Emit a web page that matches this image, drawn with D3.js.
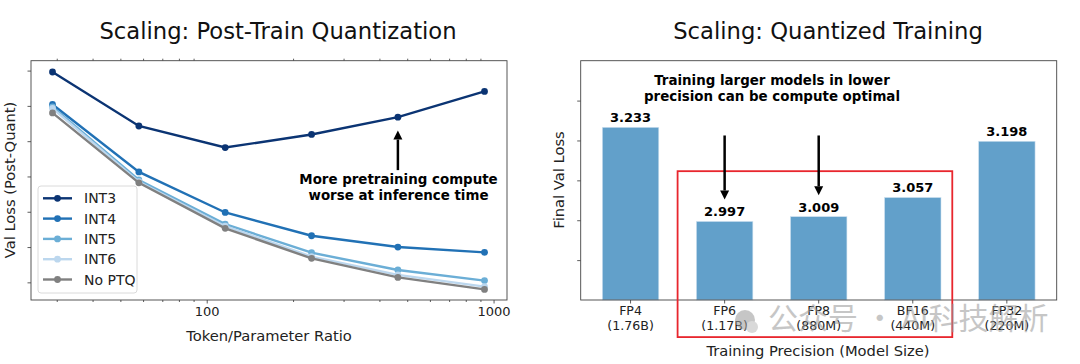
<!DOCTYPE html>
<html>
<head>
<meta charset="utf-8">
<script src="https://cdn.jsdelivr.net/npm/d3@7.9.0/dist/d3.min.js"></script>
<style>
  body { margin: 0; background: #fff; }
  svg { display: block; font-family: "DejaVu Sans", sans-serif; }
</style>
</head>
<body>
<svg id="chart" width="1080" height="364"></svg>
<script>
// ---- left panel data ----
const ratios = [29, 58, 116, 232, 464, 930];
const int3 = [3.496, 3.343, 3.282, 3.319, 3.368, 3.441];
const int4 = [3.404, 3.213, 3.098, 3.032, 3.000, 2.985];
const int5 = [3.397, 3.190, 3.065, 2.984, 2.935, 2.905];
const int6 = [3.393, 3.185, 3.059, 2.973, 2.921, 2.888];
const noPtq = [3.380, 3.182, 3.053, 2.968, 2.914, 2.880];
const seriesNames = ['INT3', 'INT4', 'INT5', 'INT6', 'No PTQ'];
const seriesColors = ['#0b3473', '#2171b5', '#6baed6', '#bcd7ee', '#808080'];
const leftYTicks = [2.9, 3.0, 3.1, 3.2, 3.3, 3.4, 3.5];
const leftXTicks = [100, 1000];

// ---- right panel data ----
const precisions = ['FP4', 'FP6', 'FP8', 'BF16', 'FP32'];
const modelSizes = ['(1.76B)', '(1.17B)', '(880M)', '(440M)', '(220M)'];
const finalLoss = [3.233, 2.997, 3.009, 3.057, 3.198];
const rightYTicks = [2.9, 3.0, 3.1, 3.2, 3.3];

const svg = d3.select('#chart');
svg.append('rect').attr('width', 1080).attr('height', 364).attr('fill', '#fff');

// ================= LEFT =================
const L = { left: 31, right: 507, top: 60.7, bottom: 300 };
const x = d3.scaleLog().domain([24.4, 1114]).range([L.left, L.right]);
const y = d3.scaleLinear().domain([2.85, 3.528]).range([L.bottom, L.top]);

const left = svg.append('g');

// minor ticks (top and bottom)
const minor = [];
for (let dec of [10, 100]) for (let k = 2; k <= 9; k++) minor.push(dec * k);
const minorIn = minor.filter(v => v > 24.4 && v < 1114);
left.append('g').attr('transform', `translate(0,${L.bottom})`)
  .call(d3.axisBottom(x).tickValues(minorIn).tickFormat('').tickSize(2))
  .call(g => g.select('.domain').remove());
left.append('g').attr('transform', `translate(0,${L.top})`)
  .call(d3.axisTop(x).tickValues(minorIn).tickFormat('').tickSize(2))
  .call(g => g.select('.domain').remove());

left.append('g').attr('transform', `translate(0,${L.bottom})`)
  .call(d3.axisBottom(x).tickValues(leftXTicks).tickFormat(d3.format('d')).tickSize(3.5).tickPadding(3))
  .call(g => g.select('.domain').remove())
  .call(g => g.selectAll('text').attr('font-size', 13).attr('fill', '#222').attr('font-family', 'DejaVu Sans'));

left.append('g').attr('transform', `translate(${L.left},0)`)
  .call(d3.axisLeft(y).tickValues(leftYTicks).tickFormat('').tickSize(3.5))
  .call(g => g.select('.domain').remove());

left.selectAll('.tick line').attr('stroke', '#333').attr('stroke-width', 0.8);

left.append('rect')
  .attr('x', L.left).attr('y', L.top)
  .attr('width', L.right - L.left).attr('height', L.bottom - L.top)
  .attr('fill', 'none').attr('stroke', '#444').attr('stroke-width', 0.9);

const allSeries = [int3, int4, int5, int6, noPtq];
const line = d3.line().x((d, i) => x(ratios[i])).y(d => y(d));

allSeries.forEach((s, k) => {
  const g = left.append('g');
  g.append('path').datum(s).attr('d', line)
    .attr('fill', 'none').attr('stroke', seriesColors[k]).attr('stroke-width', 2.4);
  g.selectAll('circle').data(s).join('circle')
    .attr('cx', (d, i) => x(ratios[i])).attr('cy', d => y(d))
    .attr('r', 3.4).attr('fill', seriesColors[k]);
});

// legend
const lg = left.append('g');
lg.append('rect').attr('x', 38).attr('y', 186).attr('width', 99).attr('height', 107)
  .attr('rx', 3).attr('fill', 'rgba(255,255,255,0.8)').attr('stroke', '#d6d6d6').attr('stroke-width', 0.9);
seriesNames.forEach((n, k) => {
  const yy = 198.3 + k * 20.3;
  lg.append('line').attr('x1', 43).attr('x2', 72).attr('y1', yy).attr('y2', yy)
    .attr('stroke', seriesColors[k]).attr('stroke-width', 2.4);
  lg.append('circle').attr('cx', 57.5).attr('cy', yy).attr('r', 3.4).attr('fill', seriesColors[k]);
  lg.append('text').attr('x', 84).attr('y', yy).attr('dy', '0.36em')
    .attr('font-size', 14).attr('fill', '#222').text(n);
});

// annotation arrow
function arrow(g, x0, y0, x1, y1) {
  const dir = Math.sign(y1 - y0);
  const headLen = 9, headW = 4.5;
  g.append('line').attr('x1', x0).attr('x2', x1).attr('y1', y0).attr('y2', y1 - dir * headLen)
    .attr('stroke', '#000').attr('stroke-width', 2.5);
  g.append('path')
    .attr('d', `M${x1},${y1} L${x1 - headW},${y1 - dir * headLen} L${x1 + headW},${y1 - dir * headLen} Z`)
    .attr('fill', '#000');
}
arrow(left, x(ratios[4]), y(3.218), x(ratios[4]), y(3.33));
left.append('text').attr('x', 398.5).attr('y', 184).attr('text-anchor', 'middle')
  .attr('font-size', 13.4).attr('font-weight', 'bold').text('More pretraining compute');
left.append('text').attr('x', 398.5).attr('y', 200).attr('text-anchor', 'middle')
  .attr('font-size', 13.4).attr('font-weight', 'bold').text('worse at inference time');

left.append('text').attr('x', 278).attr('y', 39).attr('text-anchor', 'middle')
  .attr('font-size', 22.7).attr('fill', '#111').text('Scaling: Post-Train Quantization');
left.append('text').attr('x', 269).attr('y', 341).attr('text-anchor', 'middle')
  .attr('font-size', 14.7).attr('fill', '#222').text('Token/Parameter Ratio');
left.append('text').attr('transform', 'translate(15,180) rotate(-90)').attr('text-anchor', 'middle')
  .attr('font-size', 14.7).attr('fill', '#222').text('Val Loss (Post-Quant)');

// ================= RIGHT =================
const R = { left: 580.7, right: 1056.7, top: 60.7, bottom: 300 };
const xr = d3.scaleLinear().domain([-0.53, 4.53]).range([R.left, R.right]);
const yr = d3.scaleLinear().domain([2.8, 3.4]).range([R.bottom, R.top]);
const right = svg.append('g');

right.append('g').attr('transform', `translate(${R.left},0)`)
  .call(d3.axisLeft(yr).tickValues(rightYTicks).tickFormat('').tickSize(3.5))
  .call(g => g.select('.domain').remove())
  .call(g => g.selectAll('.tick line').attr('stroke', '#333').attr('stroke-width', 0.8));

right.selectAll('rect.bar').data(finalLoss).join('rect').attr('class', 'bar')
  .attr('x', (d, i) => xr(i - 0.3)).attr('width', (d, i) => xr(i + 0.3) - xr(i - 0.3))
  .attr('y', d => yr(d)).attr('height', d => yr(2.8) - yr(d))
  .attr('fill', '#62a0ca').attr('stroke', '#cfe2f0').attr('stroke-width', 0.6);

right.selectAll('text.val').data(finalLoss).join('text').attr('class', 'val')
  .attr('x', (d, i) => xr(i)).attr('y', d => yr(d) - 5).attr('text-anchor', 'middle')
  .attr('font-size', 13).attr('font-weight', 'bold').text(d => d.toFixed(3));

right.append('rect')
  .attr('x', R.left).attr('y', R.top)
  .attr('width', R.right - R.left).attr('height', R.bottom - R.top)
  .attr('fill', 'none').attr('stroke', '#444').attr('stroke-width', 0.9);

// x tick labels
precisions.forEach((p, i) => {
  right.append('line').attr('x1', xr(i)).attr('x2', xr(i)).attr('y1', R.bottom).attr('y2', R.bottom + 3.5)
    .attr('stroke', '#333').attr('stroke-width', 0.8);
  right.append('text').attr('x', xr(i)).attr('y', 315).attr('text-anchor', 'middle')
    .attr('font-size', 12.6).attr('fill', '#222').text(p);
  right.append('text').attr('x', xr(i)).attr('y', 330).attr('text-anchor', 'middle')
    .attr('font-size', 12.6).attr('fill', '#222').text(modelSizes[i]);
});

// highlight box
right.append('rect')
  .attr('x', xr(0.5)).attr('y', yr(3.123))
  .attr('width', xr(3.42) - xr(0.5)).attr('height', yr(2.707) - yr(3.123))
  .attr('fill', 'none').attr('stroke', '#e8262d').attr('stroke-width', 1.8);

arrow(right, xr(1), yr(3.2125), xr(1), yr(3.052));
arrow(right, xr(2), yr(3.2125), xr(2), yr(3.0625));
right.append('text').attr('x', 772).attr('y', 85).attr('text-anchor', 'middle')
  .attr('font-size', 13.4).attr('font-weight', 'bold').text('Training larger models in lower');
right.append('text').attr('x', 772).attr('y', 101).attr('text-anchor', 'middle')
  .attr('font-size', 13.4).attr('font-weight', 'bold').text('precision can be compute optimal');

right.append('text').attr('x', 828).attr('y', 39).attr('text-anchor', 'middle')
  .attr('font-size', 22.7).attr('fill', '#111').text('Scaling: Quantized Training');
right.append('text').attr('x', 818).attr('y', 356).attr('text-anchor', 'middle')
  .attr('font-size', 14.7).attr('fill', '#222').text('Training Precision (Model Size)');
right.append('text').attr('transform', 'translate(564,180) rotate(-90)').attr('text-anchor', 'middle')
  .attr('font-size', 14.7).attr('fill', '#222').text('Final Val Loss');

// watermark
const wm = svg.append('g').attr('opacity', 0.55);
wm.append('circle').attr('cx', 745).attr('cy', 320).attr('r', 10).attr('fill', '#999');
wm.append('circle').attr('cx', 752).attr('cy', 327).attr('r', 6).attr('fill', '#bbb');
wm.append('text').attr('x', 768).attr('y', 329).attr('font-size', 30)
  .attr('font-family', 'Noto Sans CJK SC').attr('fill', '#999').text('公众号 · AI科技解析');
</script>
</body>
</html>
